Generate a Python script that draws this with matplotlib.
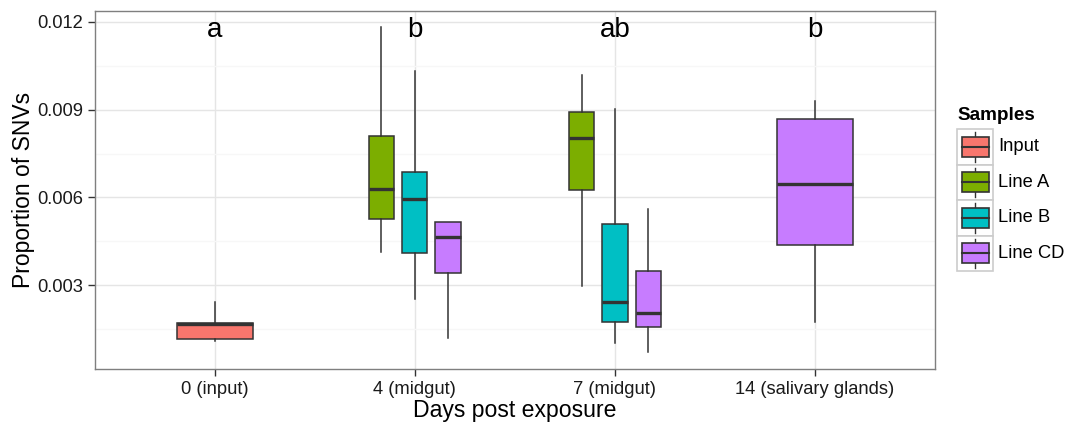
import matplotlib
matplotlib.use("Agg")
import matplotlib.pyplot as plt
from matplotlib.patches import Rectangle
from matplotlib.lines import Line2D

plt.rcParams['font.family'] = ['Liberation Sans', 'DejaVu Sans']

# ---- data ----
days = ["0 (input)", "4 (midgut)", "7 (midgut)", "14 (salivary glands)"]
samples = ["Input", "Line A", "Line B", "Line CD"]
sample_colors = ["#F8766D", "#7CAE00", "#00BFC4", "#C77CFF"]
letters = ["a", "b", "ab", "b"]

box_day = [0, 1, 1, 1, 2, 2, 2, 3]
box_sample = ["Input", "Line A", "Line B", "Line CD", "Line A", "Line B", "Line CD", "Line CD"]
whislo = [0.00109, 0.00414, 0.00253, 0.00120, 0.00299, 0.00103, 0.00072, 0.00174]
q1 =     [0.00117, 0.00528, 0.00410, 0.00342, 0.00625, 0.00176, 0.00159, 0.00438]
med =    [0.00168, 0.00628, 0.00595, 0.00465, 0.00802, 0.00243, 0.00206, 0.00647]
q3 =     [0.00170, 0.00811, 0.00686, 0.00517, 0.00893, 0.00508, 0.00349, 0.00868]
whishi = [0.00244, 0.01181, 0.01031, 0.00517, 0.01017, 0.00903, 0.00560, 0.00930]

yticks = [0.003, 0.006, 0.009, 0.012]
ytick_labels = ["0.003", "0.006", "0.009", "0.012"]
yminor = [0.0015, 0.0045, 0.0075, 0.0105]

# ---- figure ----
fig = plt.figure(figsize=(10.69, 4.26), dpi=100)
ax = fig.add_axes([94.7/1069, 1-369/426, (935-94.7)/1069, (369-10.7)/426])

# dodge positions
positions, widths = [], []
for i, d in enumerate(box_day):
    group = [j for j, dd in enumerate(box_day) if dd == d]
    n = len(group)
    k = group.index(i)
    positions.append(d + (k - (n - 1) / 2) * 0.5 / n)
    widths.append(0.38 / n)

stats = []
for i in range(len(box_day)):
    stats.append(dict(whislo=whislo[i], q1=q1[i], med=med[i], q3=q3[i],
                      whishi=whishi[i], fliers=[], label=box_sample[i]))

edge = "#333333"
bp = ax.bxp(stats, positions=positions, widths=widths, patch_artist=True,
            showfliers=False, showcaps=False,
            boxprops=dict(edgecolor=edge, linewidth=1.1),
            whiskerprops=dict(color=edge, linewidth=1.1),
            medianprops=dict(color=edge, linewidth=2.4, solid_capstyle='butt'))
for patch, s in zip(bp['boxes'], box_sample):
    patch.set_facecolor(sample_colors[samples.index(s)])
for m in bp['medians']:
    m.set_zorder(4)

# letters
for i, t in enumerate(letters):
    ax.text(i, 0.01149, t, ha='center', va='baseline', fontsize=20, color='black')

ax.set_xlim(-0.6, 3.6)
ax.set_ylim(0.000147, 0.012375)
ax.set_xticks(range(len(days)))
ax.set_xticklabels(days, fontsize=13.2, color='#1A1A1A')
ax.set_yticks(yticks)
ax.set_yticklabels(ytick_labels, fontsize=13.2, color='#1A1A1A')
ax.set_yticks(yminor, minor=True)
ax.tick_params(axis='y', which='minor', length=0)
ax.tick_params(axis='both', which='major', length=5, width=1, color='#333333', pad=3.3)
ax.grid(True, which='major', color='#E5E5E5', linewidth=1.0)
ax.grid(True, which='minor', axis='y', color='#F7F7F7', linewidth=1.0)
ax.set_axisbelow(True)
for sp in ax.spines.values():
    sp.set_color('#7F7F7F')
    sp.set_linewidth(1.0)

ax.set_xlabel("Days post exposure", fontsize=16.6, labelpad=1)
ax.set_ylabel("Proportion of SNVs", fontsize=16.5, labelpad=1.5)

# ---- legend (drawn manually in figure pixel coordinates) ----
W, H = 1069, 426
lax = fig.add_axes([0, 0, 1, 1])
lax.set_xlim(0, W)
lax.set_ylim(H, 0)
lax.axis('off')
lax.text(957, 115, "Samples", fontsize=13.6, fontweight='bold', va='center', ha='left')
key_x0, key_w, key_h, key_y0 = 957, 36, 35.5, 129
for i, (s, c) in enumerate(zip(samples, sample_colors)):
    y0 = key_y0 + i * key_h
    lax.add_patch(Rectangle((key_x0, y0), key_w, key_h, facecolor='white',
                            edgecolor='#CCCCCC', linewidth=1.2))
    cx = key_x0 + key_w / 2
    cy = y0 + key_h / 2
    lax.add_line(Line2D([cx, cx], [y0 + 3, y0 + key_h - 3], color=edge, linewidth=1.0))
    lax.add_patch(Rectangle((key_x0 + 4.5, cy - 10), key_w - 9, 20, facecolor=c,
                            edgecolor=edge, linewidth=1.2, zorder=3))
    lax.add_line(Line2D([key_x0 + 4.5, key_x0 + key_w - 4.5], [cy, cy], color=edge,
                        linewidth=1.5, zorder=4))
    lax.text(key_x0 + key_w + 5, cy, s, fontsize=13.2, va='center', ha='left')

fig.savefig("out.png", dpi=100, facecolor='white')
